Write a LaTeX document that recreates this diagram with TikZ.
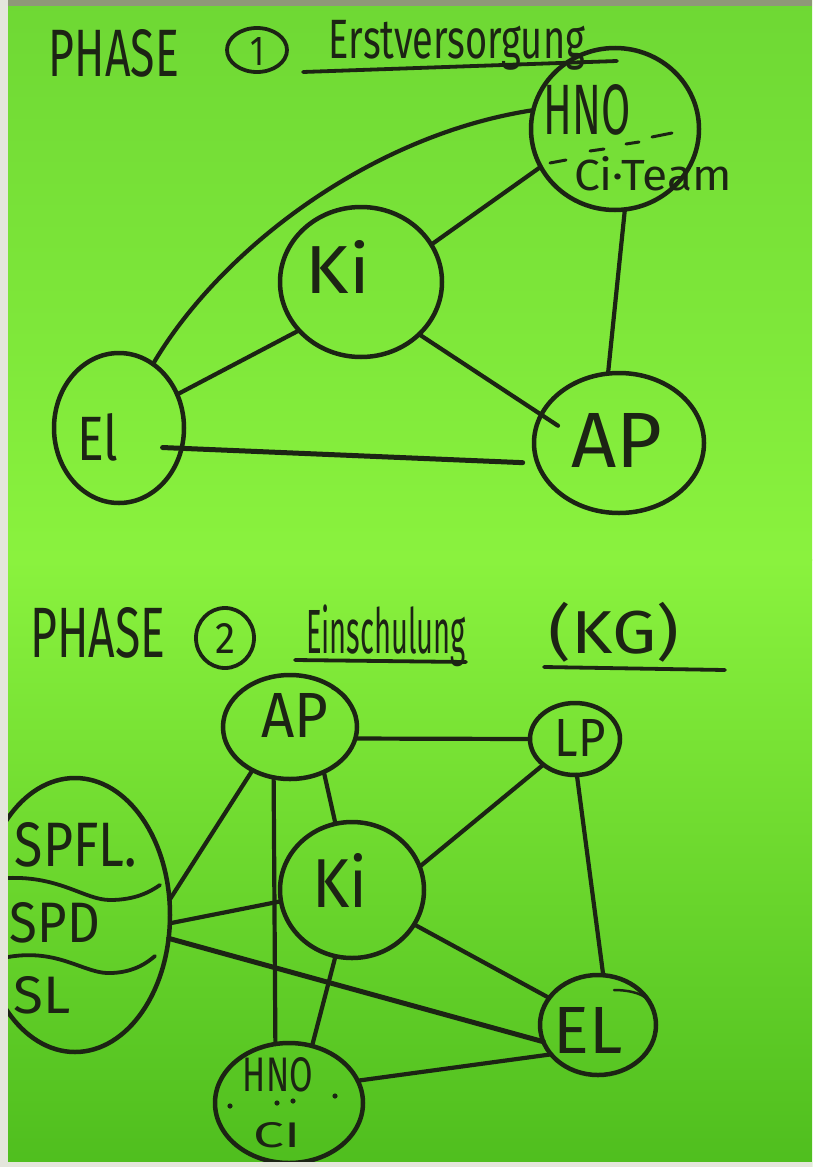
\documentclass[tikz,border=0pt]{standalone}
\usepackage{graphicx}
\usepackage{fontspec}
\setmainfont{Fira Sans}
\usetikzlibrary{shapes.geometric,calc}
\definecolor{ink}{HTML}{1C2414}
\definecolor{bgA}{HTML}{6ED834}
\definecolor{bgB}{HTML}{8AF23E}
\definecolor{bgC}{HTML}{4FBE1E}
\definecolor{edgewhite}{HTML}{E4E6DC}
\definecolor{topband}{HTML}{8E9878}
\newcommand{\fitw}[3]{\resizebox{#1pt}{#2pt}{#3}}
\newcommand{\fitt}[3]{\resizebox*{#1pt}{#2pt}{#3}}
\begin{document}
\begin{tikzpicture}[x=1pt,y=-1pt,
  ring/.style={ellipse, draw=ink, line width=4.5pt, inner sep=0pt, outer sep=0pt},
  edge/.style={draw=ink, line width=4.2pt, line cap=round},
  lbl/.style={inner sep=0pt, outer sep=0pt, text=ink},
  stroke/.style={draw=ink, line width=3.8pt, line cap=round}]
\useasboundingbox (0,0) rectangle (812,1167);
% background
\shade[top color=bgA, bottom color=bgB] (0,0) rectangle (812,560);
\shade[top color=bgB, bottom color=bgC] (0,559.5) rectangle (812,1167);
\fill[topband] (0,0) rectangle (812,6);

% ---------- PHASE 1 ----------
\node[lbl] (ph1) at (114,53) {\fitw{130}{47}{PHASE}};
\node[ring, line width=3.8pt, minimum width=60pt, minimum height=44pt] (c1) at (257,50) {};
\node[lbl] (n1) at (257,51) {\fitw{14}{28}{1}};
\node[lbl] (t1) at (457,45) {\fitt{256}{50}{Erstversorgung}};
\draw[stroke] (303,72) -- (617,61);

\node[ring, minimum width=168pt, minimum height=162pt] (hno1) at (615,129) {};
\node[ring, minimum width=162pt, minimum height=150pt] (ki1) at (361,282) {};
\node[ring, minimum width=130pt, minimum height=150pt] (el1) at (119,428) {};
\node[ring, minimum width=170pt, minimum height=140pt] (ap1) at (619,443) {};

\node[lbl] (thno1) at (587,110) {\fitw{87}{50}{HNO}};
\node[lbl] (tci1) at (653,174) {\fitw{158}{34}{Ci·Team}};
\draw[stroke, line width=3pt] (550,163) -- (566,160);
\draw[stroke, line width=3pt] (590,151) -- (604,149);
\draw[stroke, line width=3pt] (626,144) -- (639,142);
\draw[stroke, line width=3pt] (652,137) -- (672,133);
\node[lbl] (tki1) at (338,267) {\fitw{64}{53}{Ki}};
\node[lbl] (tel1) at (98,437) {\fitw{41}{47}{El}};
\node[lbl] (tap1) at (617,440) {\fitw{91}{54}{AP}};

\draw[edge] (el1.62) .. controls (220,250) and (370,135) .. (hno1.167);
\draw[edge] (el1.30) -- (ki1.218);
\draw[edge] (ki1.28) -- (hno1.207);
\draw[edge, shorten >=-20pt] (ki1.-42) -- (ap1.160);
\draw[edge] (hno1.-83) -- (ap1.99);
\draw[edge, line width=5pt, shorten <=-19pt, shorten >=15pt] (el1.-18) -- (ap1.194);

% ---------- PHASE 2 ----------
\node[lbl] (ph2) at (98,633) {\fitw{135}{50}{PHASE}};
\node[ring, line width=3.8pt, minimum width=58pt, minimum height=60pt] (c2) at (225,638) {};
\node[lbl] (n2) at (225,638) {\fitw{20}{30}{2}};
\node[lbl] (t2a) at (386,636) {\fitt{160}{62}{Einschulung}};
\node[lbl] (t2b) at (614,632) {\fitt{130}{60}{(KG)}};
\draw[stroke] (295,660) -- (466,662);
\draw[stroke] (544,667) -- (725,670);

\node[ring, minimum width=134pt, minimum height=104pt] (ap2) at (290,727) {};
\node[ring, minimum width=90pt, minimum height=72pt] (lp2) at (575,739) {};
\node[ring, minimum width=144pt, minimum height=136pt] (ki2) at (352,890) {};
\node[ring, minimum width=190pt, minimum height=274pt] (s2) at (75,915) {};
\node[ring, minimum width=116pt, minimum height=100pt] (el2) at (598,1025) {};
\node[ring, minimum width=148pt, minimum height=120pt] (hno2) at (289,1103) {};

\node[lbl] (tap2) at (295,715) {\fitw{67}{44}{AP}};
\node[lbl] (tlp2) at (580,738) {\fitw{51}{37}{LP}};
\node[lbl] (tki2) at (340,880) {\fitw{55}{54}{Ki}};
\node[lbl] (tspfl) at (76,845) {\fitw{122}{44}{SPFL.}};
\node[lbl] (tspd) at (55,923) {\fitw{90}{40}{SPD}};
\node[lbl] (tsl) at (42,995) {\fitw{57}{37}{SL}};
\node[lbl] (tel2) at (588,1030) {\fitw{69}{46}{EL}};
\node[lbl] (thno2) at (278,1075) {\fitw{70}{34}{HNO}};
\node[lbl] (tci2) at (277,1135) {\fitw{47}{25}{CI}};
\foreach \p in {(230,1106),(277,1103),(293,1101),(335,1096)}
  \fill[ink] \p circle (2.6pt);

% wavy separators in S group
\draw[stroke] (8,878) .. controls (60,876) and (85,900) .. (110,900) .. controls (135,900) and (150,892) .. (160,885);
\draw[stroke] (8,957) .. controls (60,948) and (85,975) .. (112,973) .. controls (135,972) and (148,962) .. (155,956);

% extra marker strokes
\draw[stroke, line width=2.5pt] (332,688) .. controls (344,692) and (350,700) .. (352,710);
\draw[stroke, line width=2.5pt] (614,990) .. controls (628,990) and (640,993) .. (646,998);

\draw[edge] (ap2.-10) -- (lp2.180);
\draw[edge] (ap2.229) -- (s2.9);
\draw[edge] (ap2.252) -- (hno2.103);
\draw[edge] (ap2.-53) -- (ki2.104);
\draw[edge] (lp2.219) -- (ki2.19);
\draw[edge] (lp2.-87) -- (el2.84);
\draw[edge] (ki2.189) -- (s2.-5);
\draw[edge] (ki2.-29) -- (el2.151);
\draw[edge] (ki2.256) -- (hno2.68);
\draw[edge, line width=5pt] (s2.-14) -- (el2.197);
\draw[edge] (hno2.18) -- (el2.212);

% paper edges
\fill[edgewhite] (0,0) rectangle (8,1167);
\fill[edgewhite] (0,1162) rectangle (812,1167);
\end{tikzpicture}
\end{document}
